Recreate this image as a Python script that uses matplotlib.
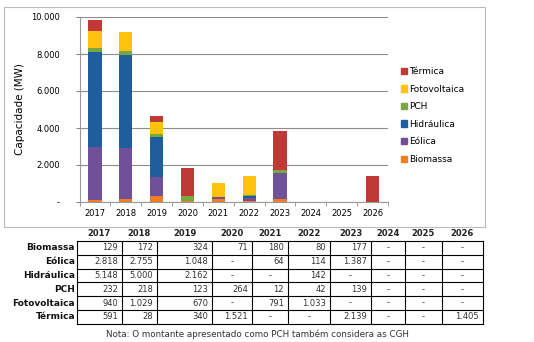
import matplotlib
matplotlib.use("Agg")
import matplotlib.pyplot as plt
from matplotlib.patches import Patch, Rectangle

# Data (MW), None = "-"
years = ["2017", "2018", "2019", "2020", "2021", "2022", "2023", "2024", "2025", "2026"]
biomassa     = [129, 172, 324, 71, 180, 80, 177, None, None, None]
eolica       = [2818, 2755, 1048, None, 64, 114, 1387, None, None, None]
hidraulica   = [5148, 5000, 2162, None, None, 142, None, None, None, None]
pch          = [232, 218, 123, 264, 12, 42, 139, None, None, None]
fotovoltaica = [940, 1029, 670, None, 791, 1033, None, None, None, None]
termica      = [591, 28, 340, 1521, None, None, 2139, None, None, 1405]

names = ["Biomassa", "Eólica", "Hidráulica", "PCH", "Fotovoltaica", "Térmica"]
series = [biomassa, eolica, hidraulica, pch, fotovoltaica, termica]
colors = ["#F07E26", "#71509A", "#1F5E9E", "#78A640", "#FFC20E", "#BF3A37"]

yticks = [0, 2000, 4000, 6000, 8000, 10000]
ytick_labels = ["-", "2.000", "4.000", "6.000", "8.000", "10.000"]

plt.rcParams["font.family"] = ["DejaVu Sans"]

W, H = 534, 342
fig = plt.figure(figsize=(W / 100, H / 100), dpi=100)

# background layer in pixel coords (frame + table)
bg = fig.add_axes([0, 0, 1, 1])
bg.set_xlim(0, W)
bg.set_ylim(H, 0)
bg.axis("off")
bg.add_patch(Rectangle((4, 7), 481, 220, fill=False, ec="#BBBBBB", lw=0.8))

# chart
ax = fig.add_axes([79.5 / W, 1 - 202 / H, 308.5 / W, 185 / H])
x = list(range(len(years)))
bottom = [0] * len(years)
for name, vals, c in zip(names, series, colors):
    v = [0 if s is None else s for s in vals]
    ax.bar(x, v, width=0.43, bottom=bottom, color=c, label=name, zorder=3)
    bottom = [b + s for b, s in zip(bottom, v)]

ax.set_xlim(-0.5, len(years) - 0.5)
ax.set_ylim(0, 10000)
ax.set_yticks(yticks)
ax.set_yticklabels(ytick_labels, fontsize=6)
ax.set_xticks(x)
ax.set_xticklabels(years, fontsize=6)
ax.set_xticks([i - 0.5 for i in range(len(years) + 1)], minor=True)
ax.tick_params(axis="x", which="major", length=0, pad=5)
ax.tick_params(axis="x", which="minor", length=3, color="#888888")
ax.tick_params(axis="y", length=3, color="#888888", pad=11)
ax.grid(axis="y", color="#8C8C8C", lw=0.8, zorder=0)
for s in ["top", "right"]:
    ax.spines[s].set_visible(False)
ax.spines["left"].set_color("#999999")
ax.spines["bottom"].set_color("#999999")
ax.set_ylabel("Capacidade (MW)", fontsize=7.5)
ax.yaxis.set_label_coords(-0.177, 0.5)

handles = [Patch(color=c, label=n) for n, c in zip(names, colors)][::-1]
ax.legend(handles=handles, loc="upper left", bbox_to_anchor=(401 / W, 1 - 67 / H),
          bbox_transform=fig.transFigure, frameon=False, fontsize=6.5,
          handlelength=0.7, handleheight=0.7, handletextpad=0.2, labelspacing=0.95,
          borderaxespad=0, borderpad=0)

# table
cols = [77, 122, 157, 212, 252, 288, 330, 371, 405, 442, 483]
top, rh = 241, 13.8
nrows = len(names)


def fmt(v):
    if v is None:
        return "-"
    return f"{v:,}".replace(",", ".")


for j, yr in enumerate(years):
    bg.text((cols[j] + cols[j + 1]) / 2, 234, yr, ha="center", va="center",
            fontsize=6, fontweight="bold", color="#222222")

for i, (name, vals) in enumerate(zip(names, series)):
    yc = top + rh * (i + 0.5)
    bg.text(75, yc, name, ha="right", va="center", fontsize=6.5,
            fontweight="bold", color="#111111")
    for j, v in enumerate(vals):
        if v is None:
            bg.text((cols[j] + cols[j + 1]) / 2, yc, "-", ha="center", va="center",
                    fontsize=6, color="#333333")
        else:
            bg.text(cols[j + 1] - 4, yc, fmt(v), ha="right", va="center",
                    fontsize=6, color="#333333")

for i in range(nrows + 1):
    bg.plot([cols[0], cols[-1]], [top + rh * i] * 2, color="black", lw=0.8)
for c in cols:
    bg.plot([c, c], [top, top + rh * nrows], color="black", lw=0.8)

bg.text(258, 334, "Nota: O montante apresentado como PCH também considera as CGH",
        ha="center", va="center", fontsize=6.3, color="#333333")

fig.savefig("out.png", dpi=100)
